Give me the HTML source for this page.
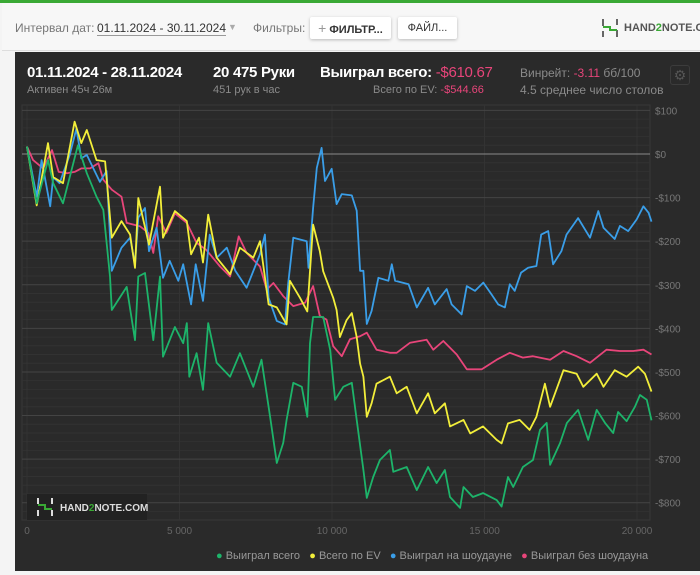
<!DOCTYPE html>
<html><head><meta charset="utf-8">
<style>
*{margin:0;padding:0;box-sizing:border-box}
body{width:700px;height:575px;overflow:hidden;background:#f4f4f4;font-family:"Liberation Sans","Noto Sans CJK SC",sans-serif;position:relative}
.abs{position:absolute;white-space:nowrap}
#topline{left:0;top:0;width:700px;height:3px;background:#3aa935}
#topbar{left:2px;top:3px;width:698px;height:48px;background:#f7f7f7;border-bottom:1px solid #ddd}
.btn{background:#fff;border-radius:2px;box-shadow:0 1px 3px rgba(0,0,0,.25);font-size:11px;color:#333;height:22px;line-height:22px;text-align:center}
#panel{left:15px;top:52px;width:685px;height:519px;background:#2a2a2a}
.g{color:#8a8a8a}
.pk{color:#e8457a}
</style></head><body>
<div class="abs" id="topline"></div>
<div class="abs" id="topbar"></div>
<div class="abs" style="left:15px;top:21px;font-size:12px;color:#777">Интервал дат:</div>
<div class="abs" style="left:97px;top:21px;font-size:12px;color:#333;border-bottom:1px solid #999">01.11.2024 - 30.11.2024</div>
<div class="abs" style="left:228px;top:22px;font-size:9px;color:#aaa">▼</div>
<div class="abs" style="left:253px;top:21px;font-size:12px;color:#777">Фильтры:</div>
<div class="abs btn" style="left:310px;top:17px;width:81px;font-weight:bold"><span style="color:#999;font-size:14px;font-weight:normal">+</span> ФИЛЬТР...</div>
<div class="abs btn" style="left:398px;top:17px;width:59px">ФАЙЛ...</div>
<svg class="abs" style="left:600px;top:18px" width="20" height="20"><path d="M3 1v7M3 13v6M17 1v6M17 12v7" stroke="#666" stroke-width="2"/><path d="M3 9h7v3h7" stroke="#3aa935" stroke-width="2" fill="none"/></svg>
<div class="abs" style="left:624px;top:22px;font-size:11px;font-weight:bold;color:#555">HAND<span style="color:#3aa935">2</span>NOTE.COM</div>

<div class="abs" id="panel"></div>
<div class="abs" style="left:27px;top:64px;font-size:15px;color:#fff;font-weight:bold;letter-spacing:-0.3px">01.11.2024 - 28.11.2024</div>
<div class="abs g" style="left:27px;top:84px;font-size:11px">Активен 45ч 26м</div>
<div class="abs" style="left:213px;top:64px;font-size:15px;color:#fff;font-weight:bold;letter-spacing:-0.3px">20 475 Руки</div>
<div class="abs g" style="left:213px;top:84px;font-size:11px">451 рук в час</div>
<div class="abs" style="left:320px;top:64px;font-size:15px;color:#fff;font-weight:bold;letter-spacing:-0.3px">Выиграл всего: <span class="pk" style="font-weight:normal">-$610.67</span></div>
<div class="abs g" style="left:373px;top:84px;font-size:11px">Всего по EV: <span class="pk">-$544.66</span></div>
<div class="abs g" style="left:520px;top:66px;font-size:12px">Винрейт: <span class="pk">-3.11</span> бб/100</div>
<div class="abs g" style="left:520px;top:83px;font-size:12px">4.5 среднее число столов</div>
<div class="abs" style="left:670px;top:65px;width:20px;height:20px;border:1px solid #3c3c3c;border-radius:3px;color:#555;font-size:14px;line-height:18px;text-align:center">⚙</div>

<svg class="abs" id="chart" style="left:0;top:0" width="700" height="575"></svg>

<div class="abs" style="left:216px;top:550px;font-size:11px;color:#999">
<span><span style="color:#1db46a">●</span> Выиграл всего</span>&nbsp;&nbsp;
<span><span style="color:#f2ee3a">●</span> Всего по EV</span>&nbsp;&nbsp;
<span><span style="color:#3a9ee8">●</span> Выиграл на шоудауне</span>&nbsp;&nbsp;
<span><span style="color:#e8457a">●</span> Выиграл без шоудауна</span>
</div>

<script>
const xTicks=[0,5000,10000,15000,20000];
const xTickLabels=["0","5 000","10 000","15 000","20 000"];
const yTicks=[100,0,-100,-200,-300,-400,-500,-600,-700,-800];
const yTickLabels=["$100","$0","-$100","-$200","-$300","-$400","-$500","-$600","-$700","-$800"];
const greenHands=[0,318,690,860,1180,1670,1960,2280,2500,2720,2780,3270,3540,3650,3870,4140,4360,4460,4850,5120,5240,5320,5560,5770,5940,6220,6660,6980,7420,7690,7970,8190,8400,8510,8730,9010,9190,9280,9380,9710,9940,10100,10370,10650,10810,11030,11140,11350,11570,11900,12010,12450,12780,13150,13430,13700,13870,14200,14310,14620,14950,15400,15560,15770,15940,16260,16590,16820,17040,17150,17480,17700,18070,18400,18680,18950,19220,19380,19660,19930,20100,20320,20475];
const greenVals=[17,-113,-14,-67,-113,20,-44,-98,-128,-281,-358,-305,-427,-281,-273,-427,-281,-465,-397,-434,-388,-511,-457,-541,-388,-479,-511,-457,-534,-472,-603,-709,-663,-610,-525,-534,-603,-434,-374,-374,-450,-564,-534,-525,-610,-725,-789,-741,-702,-679,-729,-718,-771,-718,-755,-725,-787,-812,-764,-787,-778,-794,-809,-741,-764,-718,-702,-633,-617,-713,-663,-617,-587,-656,-587,-617,-640,-592,-613,-580,-553,-564,-611];
const evHands=[0,318,690,860,1180,1560,1780,1960,2280,2560,2780,3100,3380,3540,3650,4000,4360,4460,4850,5240,5380,5640,5770,5940,6220,6660,6980,7420,7640,7920,8190,8510,8620,8950,9190,9380,9600,9710,10040,10150,10260,10480,10650,10810,10920,11030,11140,11300,11460,11900,12120,12450,12780,13150,13370,13700,13870,14310,14530,14950,15400,15560,15770,16150,16480,16700,16980,17150,17590,18020,18240,18680,18900,19270,19660,20040,20260,20475];
const evVals=[17,-118,25,-53,-67,74,25,55,-14,-17,-192,-154,-185,-261,-101,-208,-75,-192,-131,-154,-230,-192,-249,-139,-238,-276,-215,-238,-200,-345,-352,-391,-291,-330,-361,-162,-223,-269,-330,-358,-420,-381,-365,-420,-481,-511,-603,-572,-527,-511,-549,-534,-595,-549,-595,-572,-625,-610,-641,-625,-656,-664,-618,-610,-633,-603,-527,-580,-496,-504,-534,-504,-534,-496,-511,-488,-504,-545];
const sdHands=[0,318,480,760,860,1070,1400,1620,1780,1960,2390,2610,2780,3100,3380,3540,3650,3870,4000,4250,4460,4680,4960,5120,5380,5530,5770,5990,6220,6550,6830,7200,7640,7800,7920,8190,8460,8560,8730,9170,9230,9380,9500,9660,9770,9990,10150,10320,10650,10810,10920,11030,11140,11300,11520,11850,11960,12070,12510,12780,13150,13370,13760,13920,14250,14420,14690,14960,15230,15450,15670,15830,15990,16200,16430,16700,16860,17090,17250,17520,17690,18070,18460,18730,18900,19270,19440,19710,19990,20210,20380,20475];
const sdVals=[17,-98,-14,-120,-53,-67,-2,58,-10,-2,-64,-39,-268,-215,-192,-253,-146,-124,-223,-169,-284,-245,-291,-253,-345,-253,-337,-185,-238,-215,-268,-307,-230,-185,-330,-383,-391,-299,-192,-200,-261,-124,-32,14,-62,-34,-115,-92,-95,-130,-268,-268,-390,-360,-284,-291,-253,-291,-299,-352,-307,-345,-310,-345,-368,-303,-314,-295,-322,-345,-352,-299,-314,-272,-261,-257,-185,-177,-253,-223,-185,-147,-192,-131,-169,-195,-165,-177,-150,-120,-135,-155];
const nsdHands=[0,200,530,820,1040,1310,1560,1780,2070,2340,2500,2780,3100,3270,3710,3980,4140,4300,4570,4850,5240,5560,5880,6330,6660,6940,7200,7640,7860,8080,8400,8730,9120,9380,9600,9820,10040,10320,10590,10920,11140,11460,11900,12120,12560,13100,13320,13650,14090,14420,14910,15400,15830,16260,16590,17150,17590,18020,18460,19000,19440,19880,20210,20475];
const nsdVals=[17,-14,-33,9,-41,-44,-41,-33,-33,-21,-59,-82,-98,-158,-166,-181,-227,-143,-181,-136,-158,-204,-220,-258,-281,-189,-227,-258,-311,-296,-326,-349,-341,-303,-372,-380,-441,-464,-425,-418,-410,-449,-456,-456,-433,-426,-449,-429,-460,-494,-494,-472,-456,-467,-464,-472,-452,-464,-479,-449,-452,-452,-449,-460];

const NS="http://www.w3.org/2000/svg";
const svg=document.getElementById('chart');
const X0=27,X1=637,Y0=154,Ym800=502.7;
function sx(h){return X0+(X1-X0)*h/20000;}
function sy(v){return Y0+(Ym800-Y0)*(v/-800);}
function mk(tag,attrs){const e=document.createElementNS(NS,tag);for(const k in attrs)e.setAttribute(k,attrs[k]);svg.appendChild(e);return e;}

const frame=mk('rect',{x:22,y:105,width:628,height:415,fill:'none',stroke:'#383838','stroke-width':1});


for(let v=100;v>=-840;v-=20){
  if(v%100===0)continue;
  const y=sy(v); if(y<106||y>519)continue;
  const l=mk('line',{x1:22,x2:650,y1:y,y2:y,stroke:'#323232','stroke-width':1});
  
  
}
xTicks.forEach((t,i)=>{
  const l=mk('line',{x1:sx(t),x2:sx(t),y1:105,y2:520,stroke:'#333','stroke-width':1});
  
  
  const tx=mk('text',{x:sx(t),y:534,fill:'#666','font-size':10,'text-anchor':'middle','font-family':'Liberation Sans, sans-serif'});
  tx.textContent=xTickLabels[i];
  
  
});
yTicks.forEach((t,i)=>{
  const l=mk('line',{x1:22,x2:650,y1:sy(t),y2:sy(t),stroke:t===0?'#8a8a8a':'#444','stroke-width':1});
  
  
  const tx=mk('text',{x:655,y:sy(t)+4,fill:'#777','font-size':10,'font-family':'Liberation Sans, sans-serif'});
  tx.textContent=yTickLabels[i];
  
  
});
function series(hs,vs,color,name){
  const d=hs.map((h,i)=>(i?'L':'M')+sx(h).toFixed(1)+' '+sy(vs[i]).toFixed(1)).join(' ');
  const p=mk('path',{d:d,fill:'none',stroke:color,'stroke-width':1.8,'stroke-linejoin':'round'});
  
  
}
series(nsdHands,nsdVals,'#e8457a','line-non-showdown');
series(sdHands,sdVals,'#3a9ee8','line-showdown');
series(evHands,evVals,'#f2ee3a','line-ev');
series(greenHands,greenVals,'#1db46a','line-won-total');
const wm=mk('rect',{x:27,y:494,width:120,height:26,fill:'#222'});


const wi=mk('path',{d:'M38 498v6M38 510v6M52 498v6M52 510v6',stroke:'#ddd','stroke-width':2});


const wi2=mk('path',{d:'M38 505h7v4h7',stroke:'#3aa935','stroke-width':2,fill:'none'});


const wt=mk('text',{x:60,y:511,fill:'#ddd','font-size':10,'font-weight':'bold','font-family':'Liberation Sans, sans-serif'});
wt.innerHTML='HAND<tspan fill="#3aa935">2</tspan>NOTE.COM';


</script>
</body></html>
